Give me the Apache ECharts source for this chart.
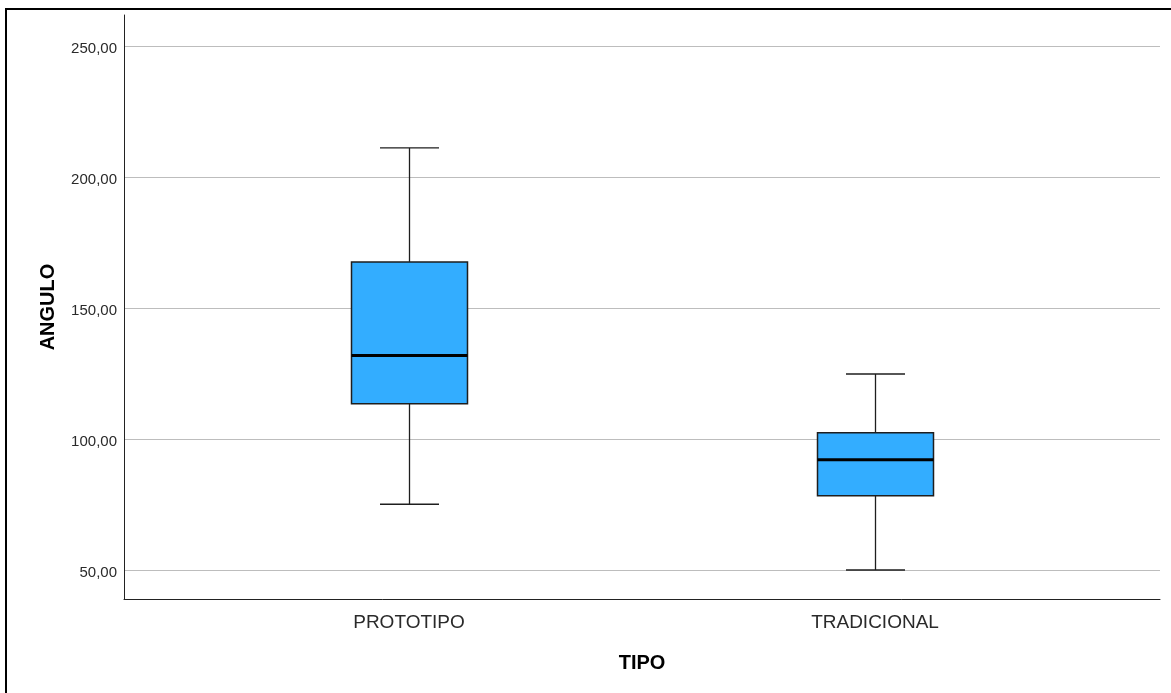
<!DOCTYPE html>
<html>
<head>
<meta charset="utf-8">
<script src="https://cdn.jsdelivr.net/npm/echarts@6/dist/echarts.min.js"></script>
<style>
html,body{margin:0;padding:0;background:#fff;}
#chart{width:1171px;height:693px;}
</style>
</head>
<body>
<div id="chart"></div>
<script>
// ---- data ----
const categories = ['PROTOTIPO', 'TRADICIONAL'];
// [min, Q1, median, Q3, max]
const prototipoBox = [75.1, 113.5, 131.9, 167.6, 211.1];
const tradicionalBox = [50.0, 78.3, 92.1, 102.4, 124.8];
const yTicks = [50, 100, 150, 200, 250];
const yMin = 38.93;
const yMax = 261.83;
const xTitle = 'TIPO';
const yTitle = 'ANGULO';

const boxData = [prototipoBox, tradicionalBox].map((b, i) => [i].concat(b));
const BOX_W = 116;
const CAP_W = 59;

const fmt = v => '{t|' + v.toFixed(2).replace('.', ',') + '}';
const FONT = '"Liberation Sans", Arial, sans-serif';

function renderBox(params, api) {
  const x = api.value(0);
  const pMin = api.coord([x, api.value(1)]);
  const pQ1 = api.coord([x, api.value(2)]);
  const pMed = api.coord([x, api.value(3)]);
  const pQ3 = api.coord([x, api.value(4)]);
  const pMax = api.coord([x, api.value(5)]);
  const cx = Math.round(pMed[0]) + 0.5;
  const hb = BOX_W / 2, hc = CAP_W / 2;
  const lineStyle = {stroke: '#1e1e1e', lineWidth: 1.3};
  return {
    type: 'group',
    children: [
      {type: 'line', shape: {x1: cx, y1: pMax[1], x2: cx, y2: pQ3[1]}, style: lineStyle},
      {type: 'line', shape: {x1: cx, y1: pQ1[1], x2: cx, y2: pMin[1]}, style: lineStyle},
      {type: 'line', shape: {x1: cx - hc, y1: pMax[1], x2: cx + hc, y2: pMax[1]}, style: lineStyle},
      {type: 'line', shape: {x1: cx - hc, y1: pMin[1], x2: cx + hc, y2: pMin[1]}, style: lineStyle},
      {type: 'rect', shape: {x: cx - hb, y: pQ3[1], width: BOX_W, height: pQ1[1] - pQ3[1]},
        style: {fill: '#33adff', stroke: '#1e1e1e', lineWidth: 1.5}},
      {type: 'line', shape: {x1: cx - hb, y1: pMed[1], x2: cx + hb, y2: pMed[1]},
        style: {stroke: '#000', lineWidth: 3}}
    ]
  };
}

const chart = echarts.init(document.getElementById('chart'), null, {renderer: 'canvas'});
chart.setOption({
  animation: false,
  backgroundColor: '#fff',
  graphic: [{
    type: 'rect', z: 100, silent: true,
    shape: {x: 6, y: 9, width: 1300, height: 800},
    style: {fill: 'none', stroke: '#000', lineWidth: 2}
  }],
  grid: [
    {left: 124, right: 11, top: 15, bottom: 94},
    {left: 176, right: 63, top: 15, bottom: 94}
  ],
  xAxis: [
    {
      gridIndex: 0, type: 'value', min: 0, max: 1,
      axisLine: {show: true, lineStyle: {color: '#222', width: 1}},
      axisTick: {show: false}, axisLabel: {show: false}, splitLine: {show: false},
      name: xTitle, nameLocation: 'middle', nameGap: 54,
      nameTextStyle: {fontFamily: FONT, fontSize: 20, fontWeight: 'bold', color: '#000'}
    },
    {
      gridIndex: 1, type: 'category', data: categories, boundaryGap: true,
      axisLine: {show: false}, axisTick: {show: false}, splitLine: {show: false},
      axisLabel: {fontFamily: FONT, fontSize: 19, color: '#2a2a2a', margin: 14}
    }
  ],
  yAxis: [
    {
      gridIndex: 0, type: 'value', min: yMin, max: yMax,
      axisLine: {show: true, lineStyle: {color: '#222', width: 1}},
      axisTick: {show: false, customValues: yTicks},
      axisLabel: {
        customValues: yTicks, formatter: fmt, margin: 7, verticalAlign: 'middle',
        rich: {t: {fontFamily: FONT, fontSize: 15, color: '#2a2a2a', padding: [5, 0, 0, 0]}}
      },
      splitLine: {show: true, lineStyle: {color: '#bdbdbd', width: 1}},
      name: yTitle, nameLocation: 'middle', nameRotate: 90, nameGap: 66,
      nameTextStyle: {fontFamily: FONT, fontSize: 20, fontWeight: 'bold', color: '#000'}
    },
    {
      gridIndex: 1, type: 'value', min: yMin, max: yMax, show: false,
      splitLine: {show: false}
    }
  ],
  series: [
    {
      type: 'custom', xAxisIndex: 1, yAxisIndex: 1,
      data: boxData,
      encode: {x: 0, y: [1, 2, 3, 4, 5]},
      renderItem: renderBox,
      silent: true
    }
  ]
});
</script>
</body>
</html>
